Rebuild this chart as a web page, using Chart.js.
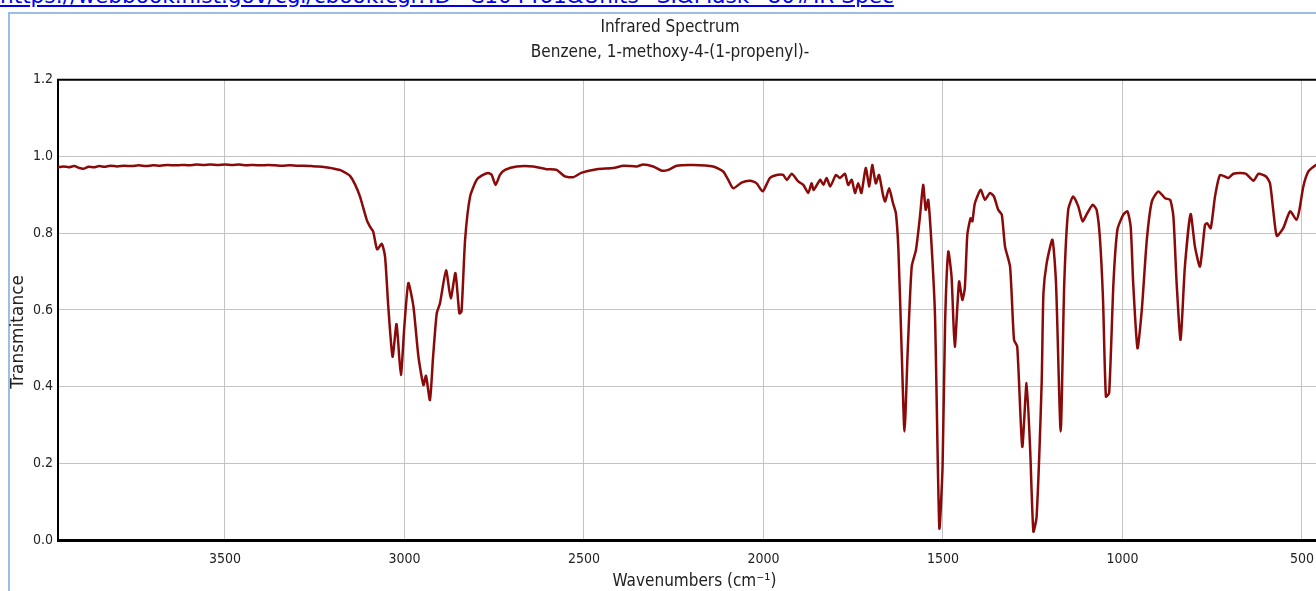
<!DOCTYPE html>
<html>
<head>
<meta charset="utf-8">
<script src="https://cdn.jsdelivr.net/npm/chart.js@4.4.1/dist/chart.umd.min.js"></script>
<style>
  html, body { margin: 0; padding: 0; width: 1316px; height: 591px; overflow: hidden; background: #fff; }
  #link { position: absolute; left: 0; top: -17px; font: 21.6px 'DejaVu Sans', sans-serif; color: #0000ee; text-decoration: underline; white-space: nowrap; }
  #panel { position: absolute; left: 8px; top: 12px; width: 1400px; height: 700px; border-left: 2px solid #9cbde6; border-top: 2px solid #9cbde6; }
  #wrap { position: absolute; left: 9px; top: 13px; }
</style>
</head>
<body>
<a id="link" href="#">https://webbook.nist.gov/cgi/cbook.cgi?ID=C104461&amp;Units=SI&amp;Mask=80#IR-Spec</a>
<div id="panel"></div>
<div id="wrap"><canvas id="irChart" width="1322" height="583"></canvas></div>
<script>
// spectrum (wavenumber in cm-1, transmittance)
const wavenumbers = [
  3965, 3950, 3935, 3920, 3905, 3895, 3880, 3865, 3850, 3835, 3820, 3800, 3780, 3760, 3740, 3720,
  3700, 3680, 3660, 3640, 3620, 3600, 3580, 3560, 3540, 3520, 3500, 3480, 3460, 3440, 3420, 3400,
  3380, 3360, 3340, 3320, 3300, 3280, 3260, 3240, 3220, 3200, 3180, 3165, 3152, 3138, 3124, 3105,
  3096, 3087, 3076, 3063, 3054, 3045, 3033, 3022, 3010, 3000, 2989, 2975, 2961, 2947, 2940, 2929,
  2920, 2910, 2901, 2884, 2871, 2858, 2847, 2841, 2831, 2817, 2799, 2785, 2767, 2757, 2746, 2734,
  2720, 2687, 2641, 2604, 2576, 2553, 2530, 2506, 2464, 2418, 2390, 2353, 2335, 2307, 2283, 2265,
  2242, 2195, 2140, 2112, 2098, 2084, 2061, 2037, 2019, 2002, 1982, 1963, 1945, 1935, 1921, 1903,
  1889, 1875, 1866, 1860, 1842, 1833, 1824, 1814, 1798, 1787, 1773, 1764, 1754, 1745, 1736, 1727,
  1715, 1705, 1697, 1687, 1678, 1667, 1661, 1650, 1639, 1631, 1624, 1615, 1607, 1598, 1587, 1575,
  1564, 1555, 1548, 1541, 1532, 1522, 1510, 1501, 1494, 1485, 1476, 1467, 1455, 1446, 1439, 1432,
  1423, 1418, 1411, 1395, 1383, 1369, 1358, 1346, 1336, 1327, 1313, 1302, 1293, 1279, 1267, 1257,
  1248, 1239, 1225, 1220, 1211, 1195, 1185, 1172, 1162, 1151, 1137, 1123, 1111, 1098, 1083, 1072,
  1063, 1054, 1046, 1037, 1025, 1014, 998, 986, 977, 970, 958, 946, 932, 918, 900, 881,
  867, 858, 849, 838, 826, 810, 798, 784, 770, 764, 754, 742, 728, 705, 691, 672,
  656, 635, 621, 600, 589, 580, 570, 552, 533, 515, 507, 496, 482, 461, 445, 420
];
const transmittance = [
  0.972, 0.974, 0.972, 0.975, 0.970, 0.968, 0.973, 0.972, 0.975, 0.973, 0.976, 0.974, 0.976, 0.975, 0.977, 0.975,
  0.977, 0.976, 0.978, 0.977, 0.978, 0.977, 0.979, 0.978, 0.979, 0.978, 0.979, 0.978, 0.979, 0.977, 0.978, 0.977,
  0.978, 0.977, 0.976, 0.977, 0.976, 0.976, 0.975, 0.974, 0.972, 0.969, 0.965, 0.958, 0.950, 0.928, 0.896, 0.835,
  0.817, 0.804, 0.758, 0.772, 0.739, 0.609, 0.478, 0.563, 0.430, 0.560, 0.670, 0.609, 0.478, 0.404, 0.428, 0.365,
  0.480, 0.591, 0.617, 0.703, 0.630, 0.696, 0.591, 0.596, 0.783, 0.896, 0.939, 0.950, 0.957, 0.952, 0.926, 0.952,
  0.965, 0.974, 0.974, 0.967, 0.965, 0.948, 0.946, 0.958, 0.967, 0.970, 0.976, 0.974, 0.979, 0.974, 0.963, 0.965,
  0.976, 0.978, 0.974, 0.961, 0.939, 0.917, 0.932, 0.937, 0.930, 0.909, 0.944, 0.952, 0.952, 0.939, 0.955, 0.935,
  0.926, 0.905, 0.930, 0.913, 0.939, 0.926, 0.944, 0.922, 0.952, 0.944, 0.955, 0.926, 0.939, 0.905, 0.930, 0.905,
  0.970, 0.922, 0.978, 0.930, 0.952, 0.900, 0.883, 0.917, 0.878, 0.852, 0.757, 0.496, 0.283, 0.496, 0.713, 0.757,
  0.843, 0.926, 0.861, 0.887, 0.774, 0.583, 0.031, 0.191, 0.565, 0.752, 0.687, 0.504, 0.674, 0.626, 0.657, 0.796,
  0.839, 0.831, 0.878, 0.913, 0.887, 0.905, 0.896, 0.861, 0.848, 0.765, 0.713, 0.522, 0.504, 0.243, 0.409, 0.235,
  0.022, 0.061, 0.409, 0.644, 0.722, 0.783, 0.670, 0.283, 0.670, 0.861, 0.896, 0.870, 0.831, 0.852, 0.874, 0.861,
  0.791, 0.626, 0.374, 0.383, 0.670, 0.809, 0.848, 0.857, 0.817, 0.670, 0.500, 0.600, 0.783, 0.883, 0.909, 0.891,
  0.887, 0.843, 0.670, 0.522, 0.713, 0.850, 0.765, 0.713, 0.822, 0.826, 0.813, 0.896, 0.952, 0.944, 0.955, 0.957,
  0.955, 0.937, 0.955, 0.948, 0.930, 0.861, 0.793, 0.813, 0.857, 0.835, 0.861, 0.922, 0.961, 0.978, 0.985, 0.988
];
const xRange = [419, 3965];
const xTicks = [3500, 3000, 2500, 2000, 1500, 1000, 500];
const yTicks = [0, 0.2, 0.4, 0.6, 0.8, 1.0, 1.2];

const narrow = "'Liberation Sans Narrow', 'DejaVu Sans Condensed', sans-serif";

// black frame on top of the plot area + y axis caption a bit below centre
const frameAndLabel = {
    id: 'frameAndLabel',
    afterDraw(chart) {
        const { ctx, chartArea } = chart;
        ctx.save();
        ctx.strokeStyle = '#000';
        ctx.lineWidth = 2;
        ctx.beginPath();
        ctx.moveTo(chartArea.left - 1, chartArea.top);
        ctx.lineTo(chartArea.right, chartArea.top);
        ctx.stroke();

        ctx.translate(10, (chartArea.top + chartArea.bottom) / 2 + 22);
        ctx.rotate(-Math.PI / 2);
        ctx.fillStyle = '#222';
        ctx.font = "17px 'DejaVu Sans', sans-serif";
        ctx.textAlign = 'center';
        ctx.textBaseline = 'middle';
        ctx.fillText('Transmitance', 0, 0);
        ctx.restore();
    }
};

const ctx = document.getElementById('irChart').getContext('2d');
new Chart(ctx, {
    type: 'line',
    data: {
        datasets: [{
            label: 'IR',
            data: wavenumbers.map((w, i) => ({ x: w, y: transmittance[i] })),
            borderColor: '#8a0a0a',
            borderWidth: 2.5,
            pointRadius: 0,
            tension: 0.2,
            fill: false
        }]
    },
    options: {
        responsive: false,
        animation: false,
        layout: { padding: 0 },
        plugins: {
            legend: { display: false },
            tooltip: { enabled: false },
            title: {
                display: true,
                text: 'Infrared Spectrum',
                color: '#222',
                font: { family: narrow, size: 17, weight: 'normal' },
                padding: { top: 4, bottom: 5 }
            },
            subtitle: {
                display: true,
                text: 'Benzene, 1-methoxy-4-(1-propenyl)-',
                color: '#222',
                font: { family: narrow, size: 17 },
                padding: { top: 0, bottom: 17 }
            }
        },
        scales: {
            x: {
                type: 'linear',
                reverse: true,
                min: xRange[0],
                max: xRange[1],
                afterBuildTicks: s => { s.ticks = xTicks.map(v => ({ value: v })); },
                afterFit: s => { s.height = 56; s.paddingLeft = 0; s.paddingRight = 0; },
                grid: { color: '#c4c4c4', lineWidth: 1, drawTicks: false },
                border: { color: '#000', width: 3 },
                ticks: {
                    padding: 11,
                    color: '#222',
                    font: { family: narrow, size: 14 },
                    maxRotation: 0,
                    autoSkip: false,
                    callback: v => String(v)
                },
                title: {
                    display: true,
                    text: 'Wavenumbers (cm⁻¹)',
                    color: '#222',
                    font: { family: narrow, size: 17 },
                    padding: { top: 0, bottom: 4 }
                }
            },
            y: {
                min: yTicks[0],
                max: yTicks[yTicks.length - 1],
                afterBuildTicks: s => { s.ticks = yTicks.map(v => ({ value: v })); },
                afterFit: s => { s.width = 49; },
                grid: { color: '#c4c4c4', lineWidth: 1, drawTicks: false },
                border: { color: '#000', width: 2 },
                ticks: {
                    padding: 5,
                    color: '#222',
                    font: { family: narrow, size: 14 },
                    callback: v => v.toFixed(1)
                }
            }
        }
    },
    plugins: [frameAndLabel]
});
</script>
</body>
</html>
